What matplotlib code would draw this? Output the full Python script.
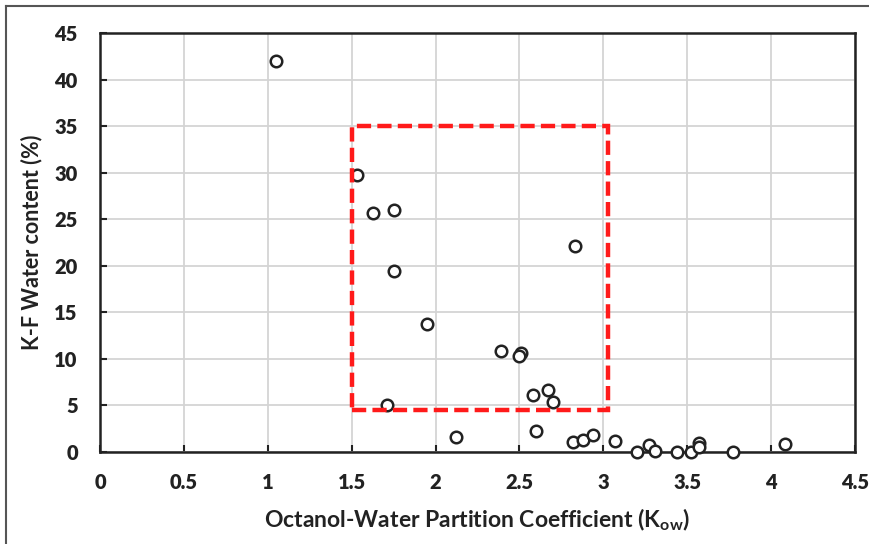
import matplotlib
matplotlib.use("Agg")
import matplotlib.pyplot as plt
from matplotlib.patches import Rectangle
from matplotlib.lines import Line2D

plt.rcParams['font.family'] = ['Lato', 'DejaVu Sans']

kow = [1.05, 1.53, 1.63, 1.75, 1.75, 1.95, 1.71, 2.12, 2.39, 2.51, 2.50,
       2.58, 2.67, 2.70, 2.60, 2.83, 2.82, 2.88, 2.94, 3.07, 3.20, 3.27,
       3.31, 3.44, 3.52, 3.57, 3.57, 3.77, 4.08]
water = [42.0, 29.7, 25.7, 26.0, 19.4, 13.8, 5.1, 1.6, 10.8, 10.6, 10.3,
         6.1, 6.7, 5.4, 2.3, 22.1, 1.1, 1.3, 1.8, 1.2, 0.0, 0.8,
         0.1, 0.0, 0.0, 1.0, 0.5, 0.0, 0.9]

x_ticks = [0, 0.5, 1, 1.5, 2, 2.5, 3, 3.5, 4, 4.5]
x_tick_labels = ['0', '0.5', '1', '1.5', '2', '2.5', '3', '3.5', '4', '4.5']
y_ticks = [0, 5, 10, 15, 20, 25, 30, 35, 40, 45]
y_tick_labels = ['0', '5', '10', '15', '20', '25', '30', '35', '40', '45']

box_x = [1.5, 3.03]
box_y = [4.5, 35.0]

fig = plt.figure(figsize=(8.7, 5.44), dpi=100)
ax = fig.add_axes([100/870, 92/544, 755/870, 419/544])

ax.plot(kow, water, linestyle='none', marker='o', markersize=8.3,
        markerfacecolor='white', markeredgecolor='#222222', markeredgewidth=1.8,
        zorder=3, clip_on=False)

rect = Rectangle((box_x[0], box_y[0]), box_x[1] - box_x[0], box_y[1] - box_y[0],
                 fill=False, edgecolor='#ff1a1a', linewidth=3.2,
                 linestyle=(0, (3.2, 1.4)), zorder=4)
ax.add_patch(rect)

ax.set_xlim(0, 4.5)
ax.set_ylim(0, 45)
ax.set_xticks(x_ticks)
ax.set_xticklabels(x_tick_labels)
ax.set_yticks(y_ticks)
ax.set_yticklabels(y_tick_labels)
ax.grid(True, color='#d4d4d4', linewidth=1.3)
ax.set_axisbelow(True)

for lab in ax.get_xticklabels() + ax.get_yticklabels():
    lab.set_fontweight('heavy')
    lab.set_fontsize(14.5)
    lab.set_color('#222222')

ax.tick_params(axis='both', direction='in', length=5, width=1.5, color='#222222')
ax.tick_params(axis='x', pad=15)
ax.tick_params(axis='y', pad=16)
for s in ax.spines.values():
    s.set_linewidth(1.8)
    s.set_color('#222222')

ax.set_xlabel('Octanol-Water Partition Coefficient (K$_{\\mathregular{ow}}$)',
              fontsize=16.5, fontweight='bold', color='#222222', labelpad=10)
ax.set_ylabel('K-F Water content (%)', fontsize=15.5, fontweight='bold',
              color='#222222', labelpad=9)

fig.add_artist(Line2D([6/870, 6/870], [0, 1 - 6/544], color='#555555', linewidth=1.5))
fig.add_artist(Line2D([6/870, 1], [1 - 6/544, 1 - 6/544], color='#555555', linewidth=1.5))

fig.savefig('out.png', dpi=100, facecolor='white')
